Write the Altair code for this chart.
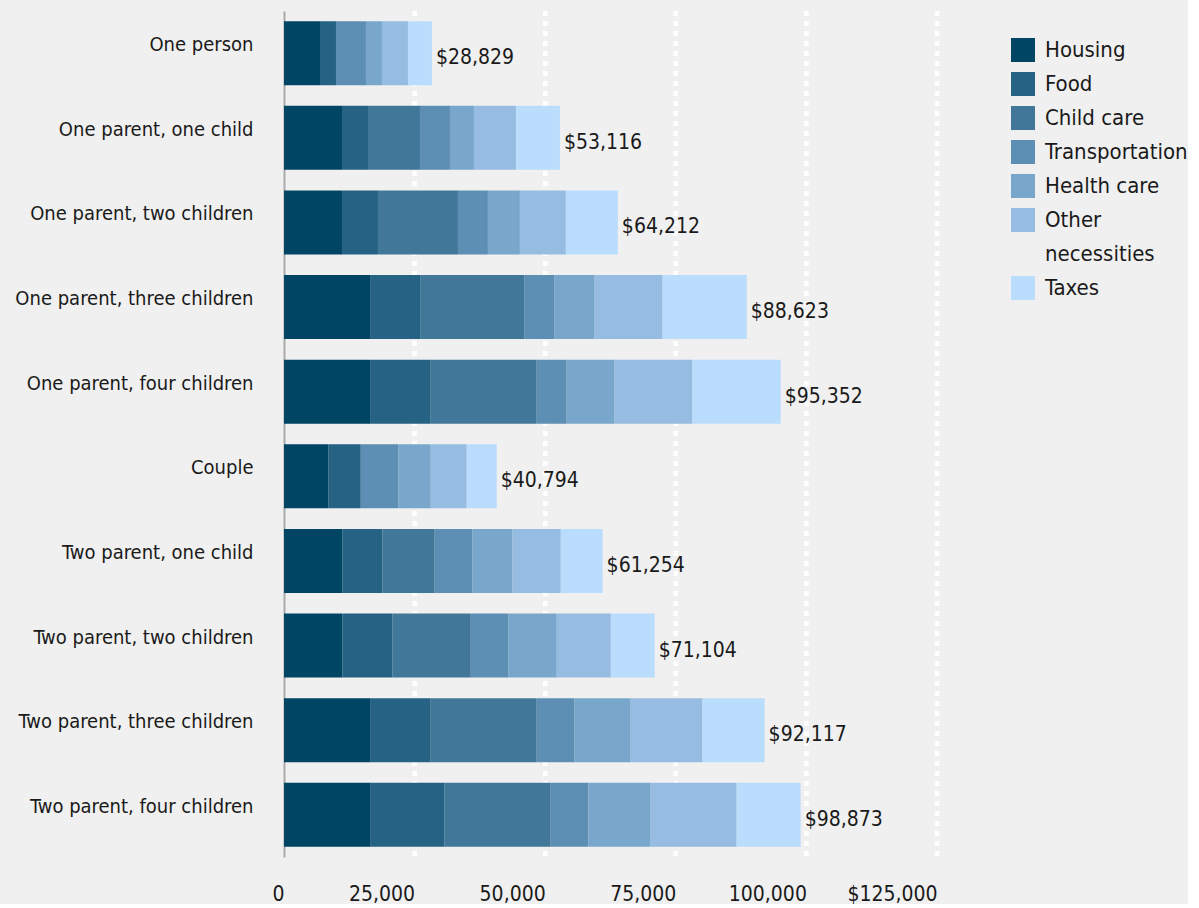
import altair as alt
import pandas as pd

FONT = "DejaVu Sans Condensed, Liberation Sans Narrow, sans-serif"

categories = [
    "One person",
    "One parent, one child",
    "One parent, two children",
    "One parent, three children",
    "One parent, four children",
    "Couple",
    "Two parent, one child",
    "Two parent, two children",
    "Two parent, three children",
    "Two parent, four children",
]

components = ["Housing", "Food", "Child care", "Transportation", "Health care",
              "Other necessities", "Taxes"]
colors = ["#014564", "#256284", "#417899", "#5c8fb3", "#79a7cb", "#96bde1", "#badcfd"]

housing = [6890, 11100, 11100, 16610, 16610, 8540, 11220, 11220, 16610, 16610]
food = [3060, 4980, 6890, 9570, 11480, 6160, 7660, 9570, 11480, 14140]
child_care = [0, 9950, 15310, 19890, 20290, 0, 9970, 14970, 20290, 20310]
transportation = [5740, 5740, 5740, 5740, 5740, 7230, 7250, 7230, 7250, 7230]
health_care = [3060, 4590, 6120, 7660, 9170, 6160, 7660, 9230, 10740, 11900]
other_necessities = [4980, 8040, 8800, 13000, 14910, 6890, 9230, 10340, 13740, 16460]
taxes = [4590, 8420, 9950, 16120, 16880, 5740, 8000, 8400, 11890, 12250]
totals = [28829, 53116, 64212, 88623, 95352, 40794, 61254, 71104, 92117, 98873]

x_ticks = [0, 25000, 50000, 75000, 100000, 125000]
grid_values = [25000, 50000, 75000, 100000, 125000]

series = [housing, food, child_care, transportation, health_care, other_necessities, taxes]

rows = []
for ci, comp in enumerate(components):
    for ki, cat in enumerate(categories):
        v = series[ci][ki]
        if v > 0:
            rows.append({"category": cat, "component": comp, "value": v, "order": ci})
df = pd.DataFrame(rows)

df_tot = pd.DataFrame({
    "category": categories,
    "end": [sum(s[k] for s in series) for k in range(len(categories))],
    "label": ["${:,}".format(t) for t in totals],
})

df_grid = pd.DataFrame({"g": grid_values})

TXT = "#1a1a1a"

y_enc = alt.Y(
    "category:N", sort=categories,
    scale=alt.Scale(paddingInner=0.244, paddingOuter=0.12),
    axis=alt.Axis(title=None, labelFontSize=20, labelFont=FONT, labelColor=TXT,
                  labelPadding=31, ticks=False, domainColor="#aaaaaa", domainWidth=2,
                  labelOffset=-8, grid=False, labelLimit=300),
)

x_scale = alt.Scale(domain=[0, 125000], nice=False)
x_axis = alt.Axis(title=None, values=x_ticks,
                  labelExpr="datum.value == 125000 ? '$125,000' : format(datum.value, ',')",
                  labelAlign="right", labelBaseline="top", labelPadding=26, ticks=False,
                  domain=False, grid=False, labelFontSize=21, labelFont=FONT,
                  labelColor=TXT)

rules = alt.Chart(df_grid).mark_rule(color="white", strokeWidth=4.5, strokeDash=[5, 5]).encode(
    x=alt.X("g:Q", scale=x_scale, axis=x_axis)
)

bars = alt.Chart(df).mark_bar().encode(
    y=y_enc,
    x=alt.X("value:Q", stack="zero", scale=x_scale, axis=x_axis),
    color=alt.Color("component:N", scale=alt.Scale(domain=components, range=colors), legend=None),
    order=alt.Order("order:Q"),
)

labels = alt.Chart(df_tot).mark_text(align="left", baseline="middle", dx=4, dy=5, fontSize=21,
                                     font=FONT, color=TXT).encode(
    y=alt.Y("category:N", sort=categories),
    x=alt.X("end:Q", scale=x_scale, axis=x_axis),
    text="label:N",
)

main = alt.layer(rules, bars, labels).properties(width=653, height=846)

# Legend panel
leg_texts = ["Housing", "Food", "Child care", "Transportation", "Health care", "Other",
             "necessities", "Taxes"]
leg_rows = list(range(len(leg_texts)))
sq_rows = [0, 1, 2, 3, 4, 5, 7]

df_leg_text = pd.DataFrame({"row": leg_rows, "text": leg_texts})
df_leg_sq = pd.DataFrame({"row": sq_rows, "component": components})

leg_y = alt.Y("row:O", scale=alt.Scale(type="point", domain=[-1] + leg_rows, padding=0.147),
              axis=None)

leg_sq = alt.Chart(df_leg_sq).mark_square(size=576, opacity=1).encode(
    y=leg_y,
    x=alt.value(12),
    color=alt.Color("component:N", scale=alt.Scale(domain=components, range=colors), legend=None),
)
leg_tx = alt.Chart(df_leg_text).mark_text(align="left", baseline="middle", fontSize=22, font=FONT,
                                          color=TXT).encode(
    y=leg_y,
    x=alt.value(34),
    text="text:N",
)
legend = alt.layer(leg_sq, leg_tx).properties(width=170, height=282)

chart = alt.hconcat(main, legend, spacing=71).resolve_scale(color="shared").configure(
    background="#f0f0f0",
    padding={"left": 14, "top": 8, "right": 0, "bottom": 0},
).configure_view(stroke=None)

chart.save("out.html", embed_options={"renderer": "svg", "actions": False})
